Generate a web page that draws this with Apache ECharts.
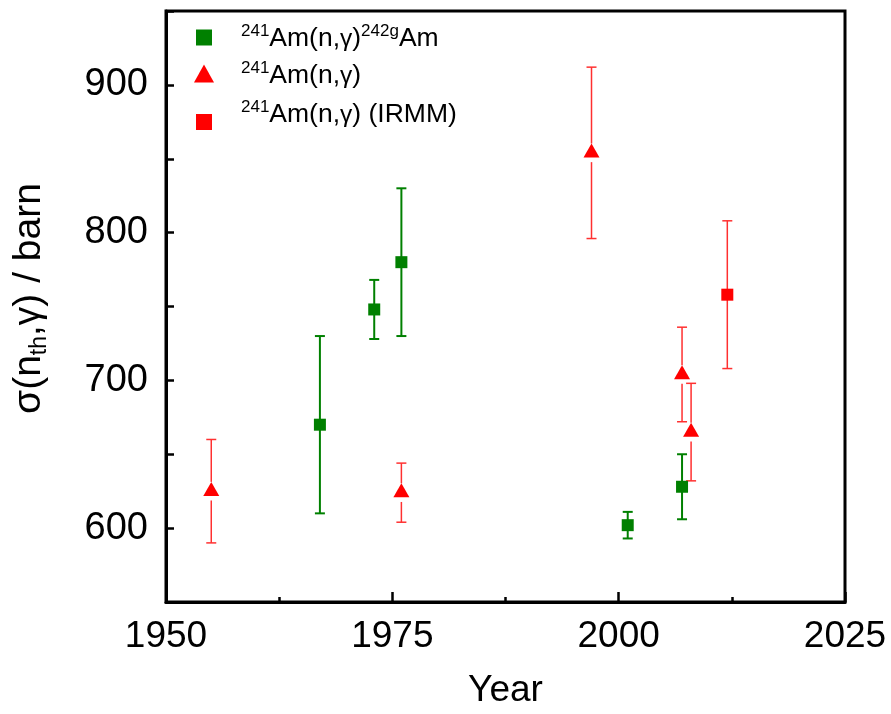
<!DOCTYPE html>
<html>
<head>
<meta charset="utf-8">
<script src="https://cdn.jsdelivr.net/npm/echarts@6/dist/echarts.min.js"></script>
<style>
html,body{margin:0;padding:0;background:#fff;}
#chart{width:891px;height:714px;}
</style>
</head>
<body>
<div id="chart"></div>
<script>
// ---- data ----
const greenYears = [1967, 1973, 1976, 2001, 2007];
const greenValues = [670, 748, 780, 602, 628];
const greenErrors = [60, 20, 50, 9, 22];

const redTriYears = [1955, 1976, 1997, 2007, 2008];
const redTriValues = [625, 624, 854, 704, 665];
const redTriErrors = [35, 20, 58, 32, 33];

const irmmYears = [2012];
const irmmValues = [758];
const irmmErrors = [50];

const xTicks = [1950, 1975, 2000, 2025];
const yTickLabels = [600, 700, 800, 900];

const seriesNames = ['241Am(n,g)242gAm', '241Am(n,g)', '241Am(n,g) (IRMM)'];
const legendTexts = [
  '{sup|241}{m|Am(n,}{g|γ}{m|)}{sup|242g}{m|Am}',
  '{sup|241}{m|Am(n,}{g|γ}{m|)}',
  '{sup|241}{m|Am(n,}{g|γ}{m|) (IRMM)}'
];

const FONT = 'Liberation Sans';
const GREEN = '#008000';
const RED = '#FF0000';

function pts(xs, vs) { return xs.map((x, i) => [x, vs[i]]); }
function errs(xs, vs, es) { return xs.map((x, i) => [x, vs[i] - es[i], vs[i] + es[i], vs[i]]); }

function errorSeries(data, color, width, gap) {
  return {
    type: 'custom',
    silent: true,
    z: 1,
    data: data,
    encode: { x: 0, y: [1, 2] },
    renderItem: function (params, api) {
      const x = api.value(0), lo = api.value(1), hi = api.value(2), c = api.value(3);
      const pLo = api.coord([x, lo]);
      const pHi = api.coord([x, hi]);
      const pC = api.coord([x, c]);
      const cap = 5;
      const st = { stroke: color, lineWidth: width };
      return {
        type: 'group',
        children: [
          { type: 'line', shape: { x1: pHi[0] - cap, y1: pHi[1], x2: pHi[0] + cap, y2: pHi[1] }, style: st },
          { type: 'line', shape: { x1: pLo[0] - cap, y1: pLo[1], x2: pLo[0] + cap, y2: pLo[1] }, style: st },
          { type: 'line', shape: { x1: pHi[0], y1: pHi[1], x2: pC[0], y2: pC[1] - gap }, style: st },
          { type: 'line', shape: { x1: pC[0], y1: pC[1] + gap, x2: pLo[0], y2: pLo[1] }, style: st }
        ]
      };
    }
  };
}

const richLegend = {
  m: { fontFamily: FONT, fontSize: 26.5, color: '#000', lineHeight: 32 },
  g: { fontFamily: FONT, fontSize: 24.5, color: '#000', lineHeight: 32 },
  sup: { fontFamily: FONT, fontSize: 17, color: '#000', lineHeight: 14, verticalAlign: 'top' }
};

function makeLegend(i, icon, w, h, top, pad) {
  return {
    data: [seriesNames[i]],
    left: 204 - w / 2,
    top: top,
    padding: 0,
    icon: icon,
    itemWidth: w,
    itemHeight: h,
    selectedMode: false,
    formatter: function () { return legendTexts[i]; },
    textStyle: { fontFamily: FONT, fontSize: 26, color: '#000', rich: richLegend, padding: pad }
  };
}

const chart = echarts.init(document.getElementById('chart'), null, { renderer: 'canvas' });
chart.setOption({
  animation: false,
  backgroundColor: '#fff',
  grid: { left: 166, right: 46, top: 11, bottom: 111, show: true, borderColor: '#000', borderWidth: 3, containLabel: false },
  legend: [
    makeLegend(0, 'rect', 16, 16, 23, [3, 0, 0, 24]),
    makeLegend(1, 'triangle', 20, 18, 60, [5, 0, 0, 22]),
    makeLegend(2, 'rect', 16, 16, 99, [0, 0, 14, 24])
  ],
  xAxis: {
    type: 'value',
    min: 1950, max: 2025, interval: 25,
    name: 'Year',
    nameLocation: 'middle',
    nameGap: 70,
    nameTextStyle: { fontFamily: FONT, fontSize: 37, color: '#000' },
    axisLine: { show: true, lineStyle: { color: '#000', width: 3 } },
    axisTick: { show: true, inside: true, length: 10, lineStyle: { color: '#000', width: 2.5 } },
    minorTick: { show: true, splitNumber: 2, length: 5, lineStyle: { color: '#000', width: 2.5 } },
    axisLabel: {
      fontFamily: FONT, fontSize: 37, color: '#000', margin: 16,
      formatter: function (v) { return xTicks.indexOf(v) >= 0 ? String(v) : ''; }
    },
    splitLine: { show: false }
  },
  yAxis: {
    type: 'value',
    min: 550, max: 950, interval: 50,
    name: '{m|σ(n}{sub|th}{m|,}{g|γ}{m|) / barn}',
    nameLocation: 'middle',
    nameRotate: 90,
    nameGap: 115,
    nameTextStyle: {
      fontFamily: FONT, fontSize: 39, color: '#000', padding: [0, 0, 0, 16],
      rich: {
        m: { fontFamily: FONT, fontSize: 39, color: '#000', lineHeight: 44 },
        g: { fontFamily: FONT, fontSize: 37, color: '#000', lineHeight: 44 },
        sub: { fontFamily: FONT, fontSize: 23, color: '#000', lineHeight: 22, verticalAlign: 'bottom' }
      }
    },
    axisLine: { show: true, lineStyle: { color: '#000', width: 3 } },
    axisTick: { show: true, inside: true, length: 8, lineStyle: { color: '#000', width: 2.5 } },
    axisLabel: {
      fontFamily: FONT, fontSize: 38, color: '#000', margin: 18,
      formatter: function (v) { return yTickLabels.indexOf(v) >= 0 ? String(v) : ''; }
    },
    splitLine: { show: false }
  },
  series: [
    errorSeries(errs(greenYears, greenValues, greenErrors), GREEN, 2, 0),
    errorSeries(errs(redTriYears, redTriValues, redTriErrors), '#FF3030', 1.5, 9.3),
    errorSeries(errs(irmmYears, irmmValues, irmmErrors), '#FF3030', 1.5, 0),
    {
      name: seriesNames[0], type: 'scatter', z: 3, symbol: 'rect', symbolSize: 12,
      itemStyle: { color: GREEN, opacity: 1 }, data: pts(greenYears, greenValues)
    },
    {
      name: seriesNames[1], type: 'scatter', z: 3, symbol: 'triangle', symbolSize: [16, 14], symbolOffset: [0, -2.3],
      itemStyle: { color: RED, opacity: 1 }, data: pts(redTriYears, redTriValues)
    },
    {
      name: seriesNames[2], type: 'scatter', z: 3, symbol: 'rect', symbolSize: 12,
      itemStyle: { color: RED, opacity: 1 }, data: pts(irmmYears, irmmValues)
    }
  ]
});
</script>
</body>
</html>
